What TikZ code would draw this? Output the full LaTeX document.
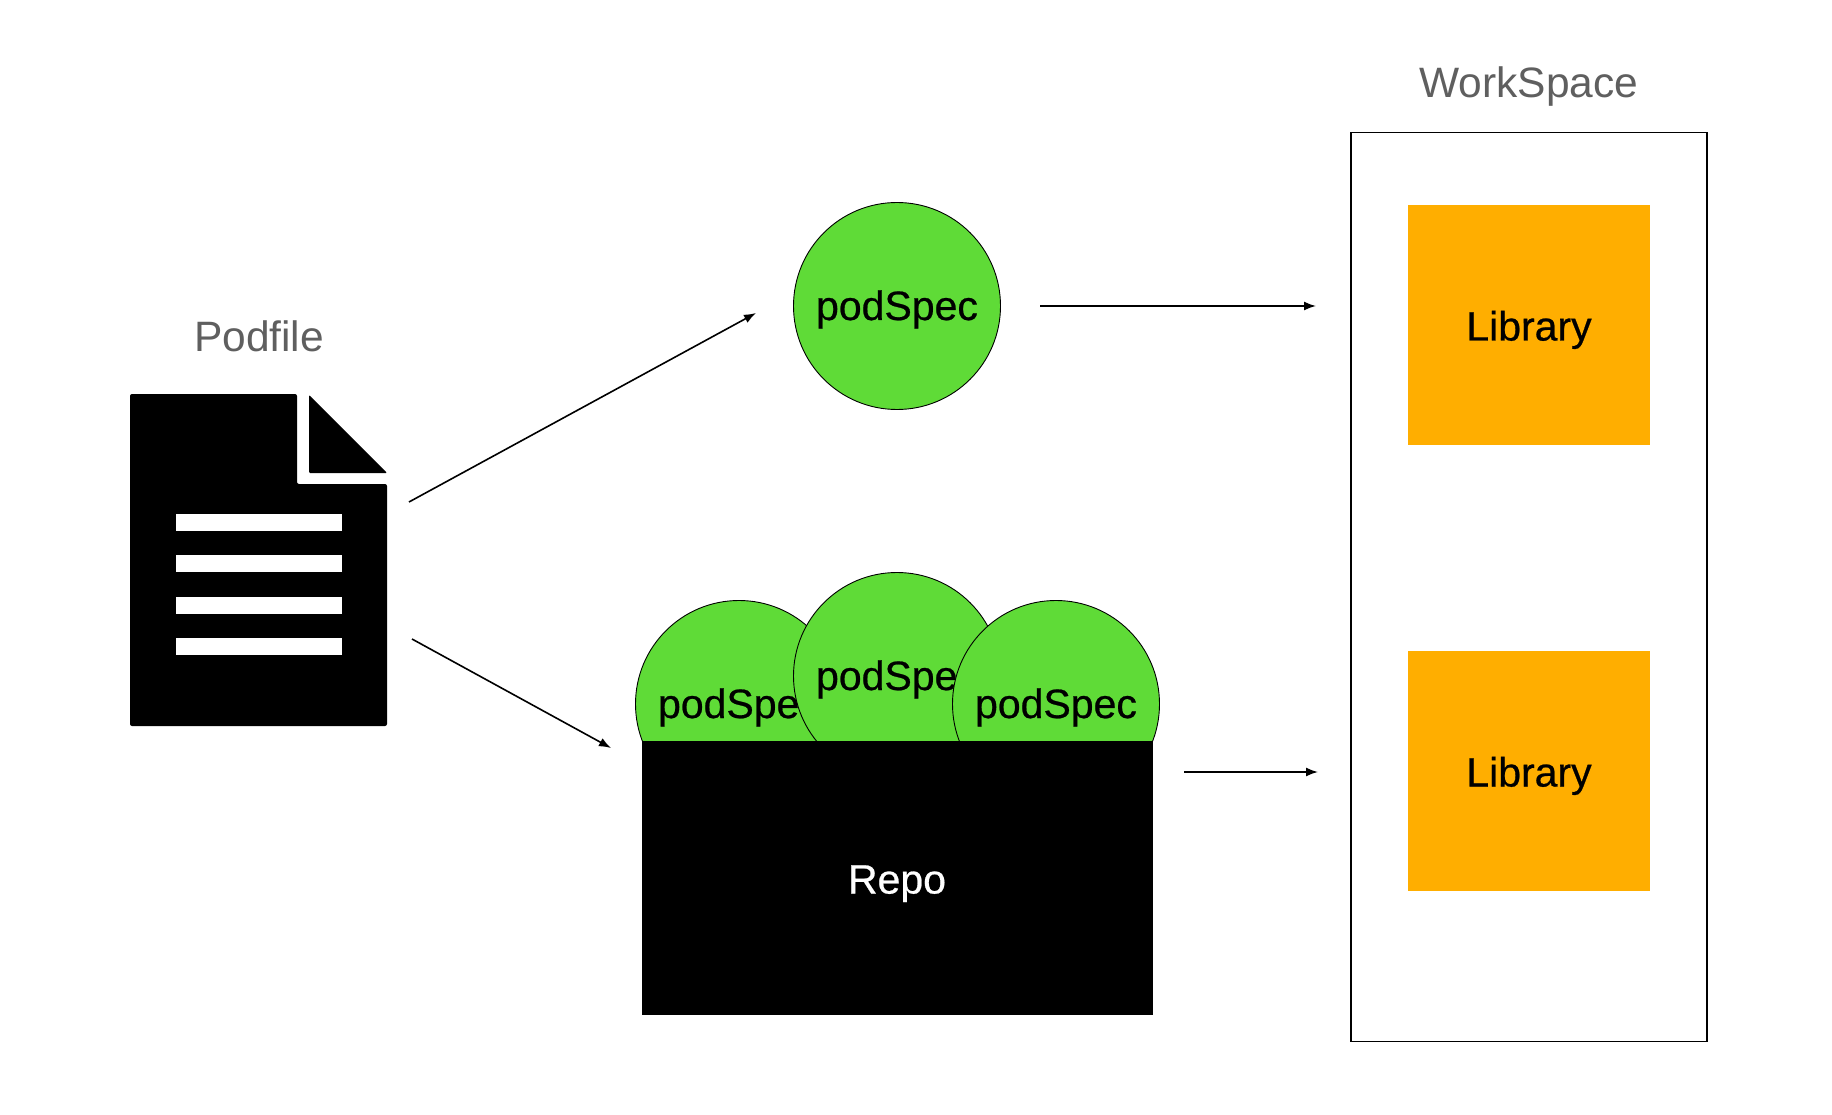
\documentclass[tikz,border=0pt]{standalone}
\usepackage{fontspec}
\setmainfont{Liberation Sans}
\newfontfamily\labelfont{Liberation Sans}[FakeBold=0.6]
\usetikzlibrary{arrows.meta}
\definecolor{specgreen}{HTML}{5FDB37}
\definecolor{liborange}{HTML}{FFAE00}
\definecolor{titlegray}{HTML}{5F5F5F}
\tikzset{
  specnode/.style={circle,draw=black,line width=0.9pt,fill=specgreen,minimum size=207pt,inner sep=0pt,text height=37pt,text depth=9pt,font=\labelfont\fontsize{41}{41}\selectfont},
  libnode/.style={fill=liborange,minimum width=242pt,minimum height=240pt,inner sep=0pt,text height=40pt,text depth=9pt,font=\labelfont\fontsize{41}{41}\selectfont},
  titlenode/.style={text=titlegray,inner sep=0pt,font=\fontsize{42.5}{42.5}\selectfont},
  flow/.style={line width=1.6pt,-{Latex[length=12pt,width=9pt]}}
}
\begin{document}
\begin{tikzpicture}[x=1pt,y=-1pt]
\useasboundingbox (0,0) rectangle (1832,1115);
% document icon
\fill [black,rounded corners=2pt] (130,394) -- (297,394) -- (297,484) -- (387,484) -- (387,726) -- (130,726) -- cycle;
\fill [black,rounded corners=1pt] (309,395) -- (387,473) -- (309,473) -- cycle;
\foreach \y in {514,555,597,638} {
  \fill [white] (176,\y) rectangle (342,\y+17);
}
\node [titlenode] (podfile) at (259,336) {Podfile};
\coordinate (docup) at (409,502);
\coordinate (docdown) at (412,639);
% single spec
\node [specnode] (specsingle) at (897,306) {podSpec};
\coordinate (specin) at (756,313);
\coordinate (specout) at (1040,306);
% specs in the repo
\node [specnode] (specleft) at (739,704) {podSpec};
\node [specnode] (specmid) at (897,676) {podSpec};
\node [specnode] (specright) at (1056,704) {podSpec};
\node [fill=black,text=white,minimum width=511pt,minimum height=274pt,inner sep=0pt,text height=40pt,text depth=9pt,font=\labelfont\fontsize{41}{41}\selectfont] (repo) at (897,878) {Repo};
\coordinate (repoin) at (611,748);
\coordinate (repoout) at (1184,772);
% workspace
\node [draw=black,line width=1.6pt,minimum width=356pt,minimum height=909pt,inner sep=0pt] (workspace) at (1529,587) {};
\node [titlenode] (worktitle) at (1529,87) {WorkSpace};
\node [libnode] (libtop) at (1529,325) {Library};
\node [libnode] (libbottom) at (1529,771) {Library};
\coordinate (workup) at (1316,306);
\coordinate (workdown) at (1318,772);
% arrows
\draw [flow] (docup) -- (specin);
\draw [flow] (docdown) -- (repoin);
\draw [flow] (specout) -- (workup);
\draw [flow] (repoout) -- (workdown);
\end{tikzpicture}
\end{document}
